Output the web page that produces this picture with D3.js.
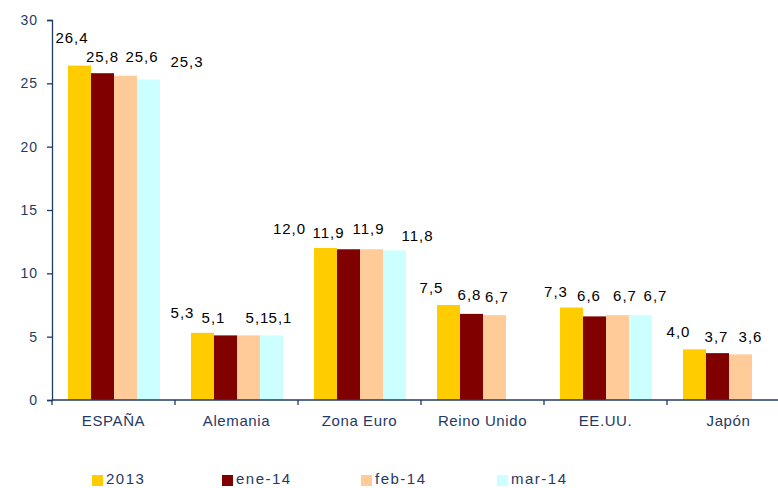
<!DOCTYPE html>
<html>
<head>
<meta charset="utf-8">
<script src="https://cdn.jsdelivr.net/npm/d3@7"></script>
<style>
  html, body { margin: 0; padding: 0; background: #fff; }
  svg { display: block; font-family: "Liberation Sans", Arial, sans-serif; }
</style>
</head>
<body>
<svg id="chart" width="778" height="488"></svg>
<script>
const categories = ["ESPAÑA", "Alemania", "Zona Euro", "Reino Unido", "EE.UU.", "Japón"];
const seriesNames = ["2013", "ene-14", "feb-14", "mar-14"];
const s2013 = [26.4, 5.3, 12.0, 7.5, 7.3, 4.0];
const sEne14 = [25.8, 5.1, 11.9, 6.8, 6.6, 3.7];
const sFeb14 = [25.6, 5.1, 11.9, 6.7, 6.7, 3.6];
const sMar14 = [25.3, 5.1, 11.8, null, 6.7, null];
const yTicks = [0, 5, 10, 15, 20, 25, 30];

const seriesValues = [s2013, sEne14, sFeb14, sMar14];
const colors = ["#FFCC00", "#800000", "#FFCC99", "#CCFFFF"];
const axisColor = "#1F3A63";

// Layout: label nudges (pixels), mimicking the hand-placed labels of the original
const labelNudgeX = [
  [-7.5, -20, -36, -17, -15.5, -16],
  [0, -12, -20, -2, -5.5, -1],
  [16.5, 9, -3, 2.5, 7.5, 10],
  [38.5, 9, 23, 0, 15, 0]
];
const labelLift = [
  [28, 20, 20, 18, 16, 18],
  [17, 18, 17, 19, 21, 17],
  [19, 18, 21, 19, 20, 18],
  [18, 18, 15, 18, 20, 18]
];

const svg = d3.select("#chart");

const x0 = d3.scaleBand().domain(categories).range([52, 790]).padding(0);
const x1 = d3.scaleBand().domain(seriesNames).range([16, 108]).padding(0);
const y = d3.scaleLinear().domain([0, 30]).range([400, 20]);

const fmt = v => d3.format(".1f")(v).replace(".", ",");

// Bars
const groups = svg.append("g").selectAll("g")
  .data(categories)
  .join("g")
  .attr("transform", d => `translate(${x0(d)},0)`);

seriesNames.forEach((s, si) => {
  groups.each(function(cat, ci) {
    const v = seriesValues[si][ci];
    if (v == null) return;
    d3.select(this).append("rect")
      .attr("x", x1(s))
      .attr("y", y(v))
      .attr("width", x1.bandwidth())
      .attr("height", y(0) - y(v))
      .attr("fill", colors[si]);
  });
});

// Labels
seriesNames.forEach((s, si) => {
  groups.each(function(cat, ci) {
    const v = seriesValues[si][ci];
    if (v == null) return;
    d3.select(this).append("text")
      .attr("x", x1(s) + x1.bandwidth() / 2 + labelNudgeX[si][ci])
      .attr("y", y(v) - labelLift[si][ci] + 5.5)
      .attr("text-anchor", "middle")
      .attr("font-size", 15)
      .attr("letter-spacing", 1)
      .attr("fill", "#000")
      .text(fmt(v));
  });
});

// Y axis
const yAxis = svg.append("g")
  .attr("transform", "translate(52,0)")
  .call(d3.axisLeft(y).tickValues(yTicks).tickSize(5).tickPadding(9).tickFormat(d3.format("d")));
yAxis.select(".domain").attr("stroke", axisColor).attr("stroke-width", 1.3);
yAxis.selectAll(".tick line").attr("stroke", axisColor).attr("stroke-width", 1.3);
yAxis.selectAll(".tick text")
  .attr("fill", axisColor)
  .attr("font-size", 14)
  .attr("letter-spacing", 1)
  .attr("font-family", "'Liberation Sans', Arial, sans-serif");

// X axis
const xAxis = svg.append("g")
  .attr("transform", "translate(0,400)");
xAxis.append("line")
  .attr("x1", 52).attr("x2", 790)
  .attr("y1", 0).attr("y2", 0)
  .attr("stroke", axisColor).attr("stroke-width", 1.3);
const boundaries = categories.map(c => x0(c)).concat([x0(categories[categories.length - 1]) + x0.bandwidth()]);
xAxis.selectAll("line.tk")
  .data(boundaries)
  .join("line")
  .attr("class", "tk")
  .attr("x1", d => d).attr("x2", d => d)
  .attr("y1", 0).attr("y2", 5)
  .attr("stroke", axisColor).attr("stroke-width", 1.3);
xAxis.selectAll("text")
  .data(categories)
  .join("text")
  .attr("x", d => x0(d) + x0.bandwidth() / 2)
  .attr("y", 26)
  .attr("text-anchor", "middle")
  .attr("font-size", 15)
  .attr("letter-spacing", 0.6)
  .attr("fill", axisColor)
  .text(d => d);

// Legend
const legendX = [92, 222, 361, 497];
const legend = svg.append("g");
seriesNames.forEach((s, i) => {
  legend.append("rect")
    .attr("x", legendX[i]).attr("y", 475)
    .attr("width", 11).attr("height", 11)
    .attr("fill", colors[i]);
  legend.append("text")
    .attr("x", legendX[i] + 14).attr("y", 484)
    .attr("font-size", 15)
    .attr("letter-spacing", 1.5)
    .attr("fill", axisColor)
    .text(s);
});
</script>
</body>
</html>
